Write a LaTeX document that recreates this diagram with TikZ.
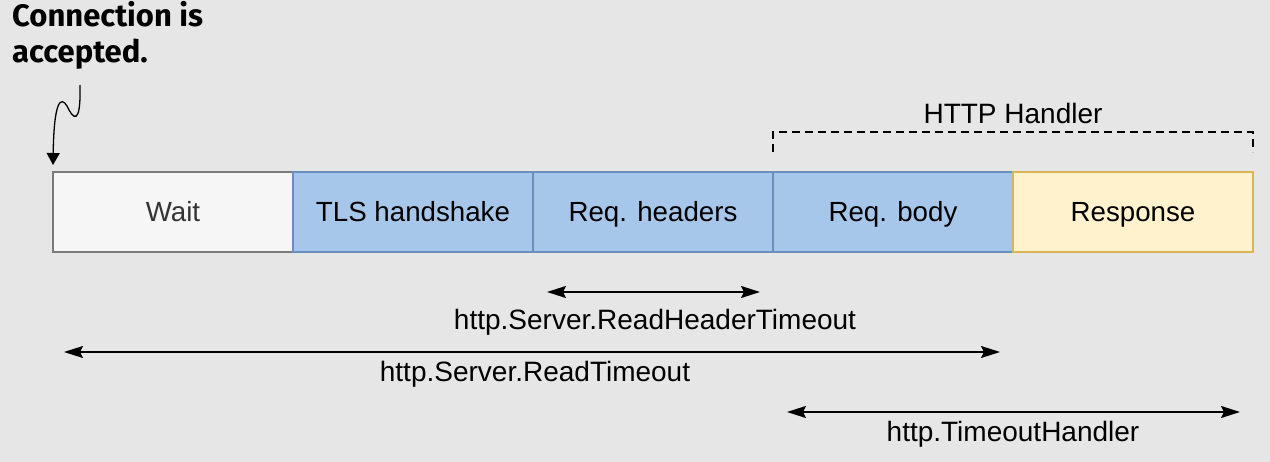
\documentclass[tikz,border=0pt]{standalone}
\usepackage{fontspec}
\setmainfont{Liberation Sans}
\newfontfamily\calloutfont{Fira Sans}
\usetikzlibrary{arrows.meta}
\definecolor{bg}{HTML}{E6E6E6}
\definecolor{waitfill}{HTML}{F5F6F5}
\definecolor{waitdraw}{HTML}{7A7A7A}
\definecolor{bluefill}{HTML}{A6C6EA}
\definecolor{bluedraw}{HTML}{6C8EBF}
\definecolor{yelfill}{HTML}{FFF2CC}
\definecolor{yeldraw}{HTML}{D6B656}
\tikzset{
  seg/.style={draw, minimum width=240pt, minimum height=80pt, inner sep=0pt, outer sep=0pt,
    text height=20pt, text depth=0pt,
    line width=1.6pt, font=\fontsize{27.7}{32}\selectfont, anchor=west},
  bluebox/.style={seg, fill=bluefill, draw=bluedraw},
  lbl/.style={font=\fontsize{28}{32}\selectfont, inner sep=0pt},
  span/.style={line width=1.6pt, {Stealth[length=19pt,width=12pt,inset=3pt]}-{Stealth[length=19pt,width=12pt,inset=3pt]}}
}
\begin{document}
\begin{tikzpicture}[x=1pt,y=-1pt]
\fill[bg] (0,0) rectangle (1270,462);
\useasboundingbox (0,0) rectangle (1270,462);
% segments
\node[seg, fill=waitfill, draw=waitdraw, text=black!80] (wait) at (53,212) {Wait};
\node[bluebox] (tls) at (293,212) {TLS handshake};
\node[bluebox] (hdr) at (533,212) {Req. headers};
\node[bluebox] (body) at (773,212) {Req. body};
\node[seg, fill=yelfill, draw=yeldraw] (resp) at (1013,212) {Response};
% callout
\node[anchor=base west, align=left, inner sep=0pt, font=\calloutfont\bfseries\fontsize{31}{36}\selectfont] (conn) at (12,63) {Connection is\\accepted.};
\coordinate (sqs) at (80,85);
\coordinate (sqe) at (53,165);
\draw[line width=1.3pt, -{Triangle[length=12pt,width=13pt]}] (sqs) .. controls (81,127) and (73,119) .. (67,106) .. controls (61,96) and (54,100) .. (sqe);
% HTTP handler bracket
\draw[dashed, dash pattern=on 8pt off 5pt, line width=1.5pt] ([yshift=20pt]body.north west) -- ++(0,-20) -| ([yshift=20pt]resp.north east);
\node[lbl] (hh) at (1013,113) {HTTP Handler};
% spans
\coordinate (a1) at (547,292); \coordinate (a2) at (760,292);
\draw[span] (a1) -- (a2);
\node[lbl] (rht) at (655,322) {http.Server.ReadHeaderTimeout};
\coordinate (b1) at (64,352); \coordinate (b2) at (1000,352);
\draw[span] (b1) -- (b2);
\node[lbl] (rt) at (535,374) {http.Server.ReadTimeout};
\coordinate (c1) at (787,412); \coordinate (c2) at (1240,412);
\draw[span] (c1) -- (c2);
\node[lbl] (th) at (1013,434) {http.TimeoutHandler};
\end{tikzpicture}
\end{document}
